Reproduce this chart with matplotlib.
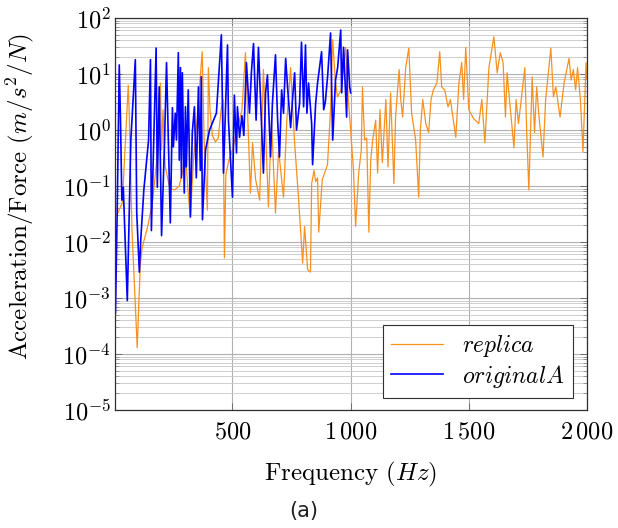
import numpy as np
import matplotlib.pyplot as plt
from matplotlib.ticker import LogLocator, FixedLocator, NullFormatter

plt.rcParams['font.family'] = 'serif'
plt.rcParams['font.serif'] = ['cmr10', 'DejaVu Serif']
plt.rcParams['mathtext.fontset'] = 'cm'
plt.rcParams['axes.unicode_minus'] = False
plt.rcParams['axes.formatter.use_mathtext'] = True

# replica (naranja)
f_replica = [10, 34, 59, 63, 75, 97, 110, 118, 140, 160, 180, 195, 200, 206, 215,
             235, 255, 275, 290, 300, 315, 322, 335, 350, 372, 380, 394, 398, 405,
             415, 428, 440, 452, 460, 466, 472, 485, 500, 520, 540, 555, 562, 576,
             585, 598, 615, 631, 640, 652, 665, 682, 695, 716, 730, 746, 755, 763,
             780, 797, 805, 818, 830, 835, 845, 852, 860, 865, 880, 902, 915, 924,
             935, 944, 960, 979, 990, 1000, 1012, 1021, 1034, 1045, 1050, 1059,
             1068, 1077, 1085, 1093, 1106, 1114, 1124, 1134, 1149, 1158, 1169,
             1183, 1190, 1205, 1212, 1220, 1233, 1246, 1258, 1275, 1288, 1295,
             1305, 1318, 1330, 1340, 1350, 1365, 1377, 1385, 1398, 1412, 1422,
             1445, 1458, 1470, 1478, 1487, 1500, 1520, 1542, 1555, 1568, 1585,
             1606, 1620, 1633, 1645, 1655, 1662, 1676, 1691, 1700, 1710, 1720,
             1737, 1745, 1754, 1768, 1778, 1787, 1797, 1814, 1825, 1847, 1858,
             1868, 1886, 1903, 1924, 1933, 1942, 1952, 1960, 1972, 1983, 1996, 2000]
a_replica = [0.03, 0.05, 6.3, 2.1, 0.016, 1.3e-4, 0.004, 0.008, 0.018, 0.046, 0.29,
             6.9, 0.44, 2.3, 0.23, 0.09, 0.085, 0.10, 0.19, 0.44, 0.056, 0.028,
             0.29, 1.5, 25, 0.66, 0.037, 13, 2.3, 0.8, 0.61, 0.72, 2.3, 3.5,
             0.0052, 0.16, 0.29, 0.44, 1.0, 2.3, 24, 3.5, 0.075, 0.59, 0.13,
             0.056, 12, 1.0, 0.042, 1.5, 0.033, 0.44, 0.063, 1.5, 13, 2.3, 0.59,
             0.056, 0.0042, 0.019, 0.0032, 0.0029, 0.11, 0.19, 0.12, 0.14, 0.015,
             0.13, 0.24, 2.3, 41, 7.8, 3.9, 5.2, 30, 3.5, 1.0, 0.19, 0.019, 0.17,
             0.44, 5.9, 0.66, 0.72, 0.015, 0.29, 0.66, 1.5, 0.17, 2.3, 0.26, 3.5,
             0.22, 4.6, 0.11, 1.7, 12, 3.5, 1.7, 13, 29, 2.0, 0.66, 0.063, 1.0,
             3.5, 1.3, 0.9, 3.5, 5.2, 6.9, 25, 5.9, 5.2, 2.6, 3.5, 0.74, 6.9, 16,
             3.5, 30, 2.3, 1.6, 1.3, 3.5, 0.59, 13, 46, 10.5, 24, 16, 1.7, 10.5,
             2.3, 0.48, 3.5, 1.3, 3.0, 13, 0.9, 0.085, 8.9, 0.9, 5.9, 1.7, 0.33,
             3.5, 29, 3.9, 5.9, 1.7, 6.9, 19, 7.8, 12, 5.2, 13, 3.5, 0.41, 16, 8]

# original A (azul)
f_original = [5, 12, 21, 26, 32, 38, 55, 70, 89, 95, 106, 112, 125, 145,
              153, 157, 177, 182, 190, 200, 212, 221, 237, 246, 250, 258, 263,
              271, 275, 280, 284, 288, 296, 301, 305, 313, 322, 330, 339, 347,
              356, 364, 368, 373, 386, 403, 432, 453, 462, 479, 483, 500, 508,
              517, 521, 530, 540, 548, 559, 572, 580, 589, 600, 610, 621, 631,
              640, 648, 661, 669, 682, 691, 699, 708, 716, 725, 733, 746, 754,
              763, 771, 784, 792, 801, 809, 815, 822, 835, 839, 852, 860, 877,
              886, 893, 903, 915, 924, 936, 945, 958, 962, 970, 983, 987, 996, 1000]
a_original = [5.4e-4, 0.03, 14.5, 1.7, 0.056, 0.095, 9e-4, 0.66, 18, 0.033, 0.0029,
              0.011, 0.085, 0.66,
              18, 0.016, 29, 0.095, 5.9, 0.013, 0.5, 16, 0.022, 2.5, 0.5, 2.0,
              0.66, 24, 0.29, 13, 0.14, 10.5, 0.075, 2.6, 0.22, 5.2, 0.028, 0.9,
              2.6, 0.14, 5.9, 0.19, 8.9, 0.025, 0.44, 1.0, 2.0, 50, 0.17, 33, 1.5,
              0.063, 4.2, 0.39, 2.6, 0.74, 1.8, 0.8, 16, 2.0, 10.5, 35, 1.5, 30,
              2.0, 0.17, 4.6, 9.6, 0.33, 3.0, 22, 1.5, 0.33, 5.2, 2.0, 19, 5.9,
              1.1, 3.5, 10.5, 1.0, 3.0, 37, 2.6, 33, 2.0, 6.9, 1.3, 0.24, 3.0,
              6.9, 25, 2.3, 3.2, 9.6, 54, 0.66, 7.8, 13, 61, 4.6, 30, 1.7, 27,
              5.9, 4.6]

x_ticks = [500, 1000, 1500, 2000]
x_tick_labels = [r'$500$', r'$1\,000$', r'$1\,500$', r'$2\,000$']
y_ticks = [1e-5, 1e-4, 1e-3, 1e-2, 1e-1, 1e0, 1e1, 1e2]
y_tick_labels = [r'$10^{-5}$', r'$10^{-4}$', r'$10^{-3}$', r'$10^{-2}$',
                 r'$10^{-1}$', r'$10^{0}$', r'$10^{1}$', r'$10^{2}$']

fig = plt.figure(figsize=(6.18, 5.28), dpi=100)
ax = fig.add_axes([115 / 618, 1 - 410 / 528, (587 - 115) / 618, (410 - 18) / 528])

ax.plot(f_replica, a_replica, color='#f7901e', lw=0.9, label=r'$replica$')
ax.plot(f_original, a_original, color='#0000ff', lw=1.2, label=r'$originalA$')

ax.set_yscale('log')
ax.set_xlim(3, 2000)
ax.set_ylim(1e-5, 1e2)

ax.xaxis.set_major_locator(FixedLocator(x_ticks))
ax.set_xticklabels(x_tick_labels)
ax.yaxis.set_major_locator(FixedLocator(y_ticks))
ax.set_yticklabels(y_tick_labels)
ax.yaxis.set_minor_locator(LogLocator(base=10, subs=np.arange(2, 10), numticks=20))
ax.yaxis.set_minor_formatter(NullFormatter())

ax.grid(True, which='major', color='#b0b0b0', lw=0.8)
ax.grid(True, which='minor', axis='y', color='#c8c8c8', lw=0.6)
ax.set_axisbelow(True)
ax.tick_params(which='both', direction='in', top=True, right=True, labelsize=17.5)
ax.tick_params(axis='x', pad=8)
ax.tick_params(axis='y', pad=3)
ax.tick_params(which='major', length=5, width=0.6, color='#606060')
ax.tick_params(which='minor', length=3, width=0.5, color='#808080')
for s in ax.spines.values():
    s.set_linewidth(0.9)
    s.set_color('#303030')

ax.set_xlabel(r'Frequency ($Hz$)', fontsize=18, labelpad=12)
ax.set_ylabel(r'Acceleration/Force ($m/s^2/N$)', fontsize=18)
ax.yaxis.set_label_coords(-0.168, 0.545)

leg = ax.legend(loc='lower right', fontsize=17, fancybox=False, framealpha=1,
                edgecolor='#303030', borderpad=0.35, handlelength=2.2,
                labelspacing=0.15, borderaxespad=0,
                bbox_to_anchor=(0.97, 0.031))
leg.get_frame().set_linewidth(0.8)

fig.text(304 / 618, 1 - 511 / 528, '(a)', ha='center', va='center', fontsize=15,
         family='DejaVu Sans', color='#202020')

fig.savefig('out.png', dpi=100)
